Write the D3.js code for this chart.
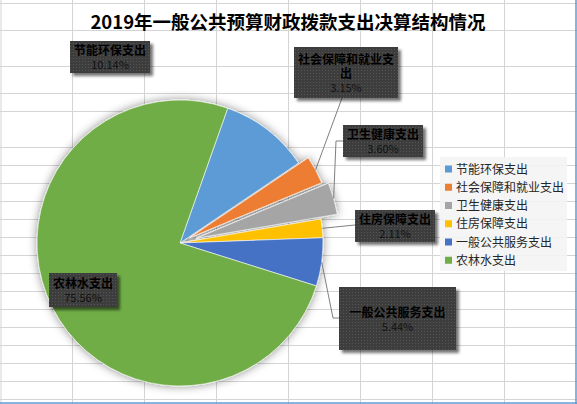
<!DOCTYPE html>
<html>
<head>
<meta charset="utf-8">
<script src="https://cdn.jsdelivr.net/npm/d3@7/dist/d3.min.js"></script>
<style>
  body { margin: 0; background: #fff; }
  svg { display: block; font-family: "Noto Sans CJK SC", "Noto Sans", sans-serif; }
</style>
</head>
<body>
<div id="chart"></div>
<script>
// data
var title = "2019年一般公共预算财政拨款支出决算结构情况";
var categories = ["节能环保支出", "社会保障和就业支出", "卫生健康支出", "住房保障支出", "一般公共服务支出", "农林水支出"];
var values = [10.14, 3.15, 3.60, 2.11, 5.44, 75.56];
var colors = ["#5b9bd5", "#ed7d31", "#a5a5a5", "#ffc000", "#4472c4", "#70ad47"];

// layout stuff (not data)
var explode = [0, 11, 17, 0, 0, 0];
var labelLines = [["节能环保支出"], ["社会保障和就业支", "出"], ["卫生健康支出"], ["住房保障支出"], ["一般公共服务支出"], ["农林水支出"]];
var labelBox = [[70, 41, 80, 32], [294, 47, 104, 51], [343, 125, 80, 32], [355, 210, 80, 32], [339, 287, 117, 63], [49, 273, 68, 34]];
var gridX = [1, 72.5, 144.5, 216.5, 288.5, 360.5, 432.5, 504.5];
var gridY = [3, 30, 66, 93, 111, 147, 165, 183, 201, 219, 237, 255, 273, 291, 309, 327, 345, 363, 381, 399];

var W = 577, H = 404;
var cx = 180, cy = 243, R = 143;
var startAngle = 19.5 * Math.PI / 180;

var svg = d3.select("#chart").append("svg")
    .attr("width", W)
    .attr("height", H);

var defs = svg.append("defs");
var pieShadow = defs.append("filter").attr("id", "pieShadow")
    .attr("x", "-20%").attr("y", "-20%").attr("width", "140%").attr("height", "140%");
pieShadow.append("feDropShadow").attr("dx", 0).attr("dy", 0)
    .attr("stdDeviation", 5).attr("flood-color", "#000").attr("flood-opacity", 0.45);

var boxShadow = defs.append("filter").attr("id", "boxShadow")
    .attr("x", "-20%").attr("y", "-30%").attr("width", "140%").attr("height", "160%");
boxShadow.append("feDropShadow").attr("dx", 3).attr("dy", 3)
    .attr("stdDeviation", 1.5).attr("flood-color", "#000").attr("flood-opacity", 0.55);

var dots = defs.append("pattern").attr("id", "dots")
    .attr("width", 3).attr("height", 3).attr("patternUnits", "userSpaceOnUse");
dots.append("rect").attr("width", 3).attr("height", 3).attr("fill", "#3d3d3d");
dots.append("rect").attr("x", 1).attr("y", 1).attr("width", 1).attr("height", 1).attr("fill", "#555");

// spreadsheet grid behind the chart
svg.append("rect").attr("width", W).attr("height", H).attr("fill", "#fff");
svg.selectAll("line.gx").data(gridX).enter().append("line")
    .attr("class", "gx")
    .attr("x1", function(d){ return d; }).attr("x2", function(d){ return d; })
    .attr("y1", 0).attr("y2", H)
    .attr("stroke", "#d4d4d4").attr("stroke-width", 1);
svg.selectAll("line.gy").data(gridY).enter().append("line")
    .attr("class", "gy")
    .attr("x1", 0).attr("x2", W)
    .attr("y1", function(d){ return d + 0.5; }).attr("y2", function(d){ return d + 0.5; })
    .attr("stroke", "#d4d4d4").attr("stroke-width", 1);

// chart border (right and bottom visible)
svg.append("line").attr("x1", 576).attr("x2", 576).attr("y1", 0).attr("y2", 404)
    .attr("stroke", "#5b9bd5").attr("stroke-width", 1.5);
svg.append("line").attr("x1", 0).attr("x2", 577).attr("y1", 403).attr("y2", 403)
    .attr("stroke", "#5b9bd5").attr("stroke-width", 1.5);

// title
svg.append("text")
    .attr("x", 288).attr("y", 29)
    .attr("text-anchor", "middle")
    .attr("font-size", "18.5px")
    .attr("font-weight", "bold")
    .attr("fill", "#000")
    .text(title);

var total = d3.sum(values);
var pie = d3.pie().sort(null)
    .startAngle(startAngle)
    .endAngle(startAngle + 2 * Math.PI);
var arcs = pie(values);
var arc = d3.arc().innerRadius(0).outerRadius(R);

function offsetOf(d, i) {
  var a = (d.startAngle + d.endAngle) / 2;
  return [explode[i] * Math.sin(a), -explode[i] * Math.cos(a)];
}

var g = svg.append("g")
    .attr("transform", "translate(" + cx + "," + cy + ")")
    .attr("filter", "url(#pieShadow)");

g.selectAll("path").data(arcs).enter().append("path")
    .attr("d", arc)
    .attr("transform", function(d, i){
      var o = offsetOf(d, i);
      return "translate(" + o[0] + "," + o[1] + ")";
    })
    .attr("fill", function(d, i){ return colors[i]; })
    .attr("stroke", "#fff")
    .attr("stroke-width", 0.6);

// leader lines: slice edge -> box
function anchor(i) {
  var d = arcs[i];
  var a = (d.startAngle + d.endAngle) / 2;
  var r = R + explode[i];
  return [cx + r * Math.sin(a), cy - r * Math.cos(a)];
}
var leaders = [];
var p;
p = anchor(1); leaders.push([p, [342, labelBox[1][1] + labelBox[1][3]]]);
p = anchor(2); leaders.push([p, [336, labelBox[2][1] + 16], [labelBox[2][0], labelBox[2][1] + 16]]);
p = anchor(3); leaders.push([p, [labelBox[3][0], labelBox[3][1] + 15]]);
p = anchor(4); leaders.push([p, [333, labelBox[4][1] + 31], [labelBox[4][0], labelBox[4][1] + 31]]);

svg.selectAll("path.leader").data(leaders).enter().append("path")
    .attr("class", "leader")
    .attr("d", d3.line())
    .attr("fill", "none")
    .attr("stroke", "#7f7f7f")
    .attr("stroke-width", 1);

// data label boxes
var lab = svg.selectAll("g.lab").data(categories).enter().append("g").attr("class", "lab");
lab.append("rect")
    .attr("x", function(d, i){ return labelBox[i][0]; })
    .attr("y", function(d, i){ return labelBox[i][1]; })
    .attr("width", function(d, i){ return labelBox[i][2]; })
    .attr("height", function(d, i){ return labelBox[i][3]; })
    .attr("fill", "url(#dots)")
    .attr("filter", "url(#boxShadow)");

// one text per label, lines as tspans
lab.each(function(d, i){
  var b = labelBox[i];
  var lines = labelLines[i];
  var n = lines.length + 1;
  var lh = 14;
  var y0 = b[1] + (b[3] - n * lh) / 2 + 12;
  var mx = b[0] + b[2] / 2;
  var t = d3.select(this).append("text")
      .attr("x", mx)
      .attr("y", y0)
      .attr("text-anchor", "middle");
  lines.forEach(function(s, k){
    t.append("tspan")
        .attr("x", mx)
        .attr("y", y0 + k * lh)
        .attr("font-size", "12px")
        .attr("font-weight", "bold")
        .attr("fill", "#000")
        .text(s);
  });
  t.append("tspan")
      .attr("x", mx)
      .attr("y", y0 + lines.length * lh)
      .attr("font-size", "11px")
      .attr("fill", "#111")
      .text((values[i] / total * 100).toFixed(2) + "%");
});

// legend
var legend = svg.append("g").attr("transform", "translate(440,157)");
legend.append("rect").attr("width", 127).attr("height", 114)
    .attr("fill", "#f4f4f4").attr("opacity", 0.9);
var item = legend.selectAll("g.item").data(categories).enter().append("g")
    .attr("class", "item")
    .attr("transform", function(d, i){ return "translate(5," + (12 + i * 18.25) + ")"; });
item.append("rect")
    .attr("x", 0).attr("y", -3.5)
    .attr("width", 7).attr("height", 7)
    .attr("fill", function(d, i){ return colors[i]; });
item.append("text")
    .attr("x", 11).attr("y", 4.5)
    .attr("font-size", "12px")
    .attr("fill", "#262626")
    .text(function(d){ return d; });
</script>
</body>
</html>
